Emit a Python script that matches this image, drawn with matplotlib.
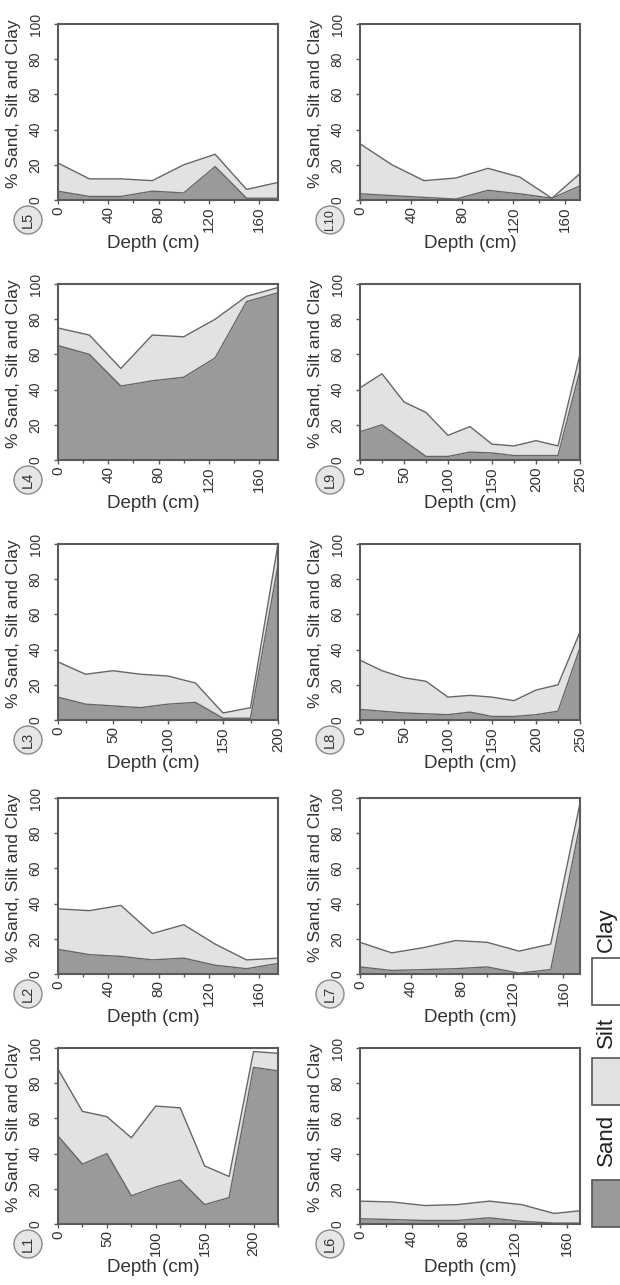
import matplotlib
matplotlib.use("Agg")
import matplotlib.pyplot as plt
from matplotlib.patches import Ellipse, Rectangle
from matplotlib.ticker import MultipleLocator

plt.rcParams['font.family'] = ['Liberation Sans', 'DejaVu Sans']

SAND_COLOR = '#9a9a9a'
SILT_COLOR = '#e2e2e2'
EDGE_COLOR = '#666666'
SPINE_COLOR = '#5a5a5a'

# depth (cm), % sand and % silt for every profile; clay is the remainder up to 100
depth_L1 = [0, 25, 50, 75, 100, 125, 150, 175, 200, 225]
sand_L1 = [50, 34, 40, 16, 21, 25, 11, 15, 89, 87]
silt_L1 = [38, 30, 21, 33, 46, 41, 22, 12, 9, 10]

depth_L2 = [0, 25, 50, 75, 100, 125, 150, 175]
sand_L2 = [14, 11, 10, 8, 9, 5, 3, 6]
silt_L2 = [23, 25, 29, 15, 19, 12, 5, 3]

depth_L3 = [0, 25, 50, 75, 100, 125, 150, 175, 200]
sand_L3 = [13, 9, 8, 7, 9, 10, 1, 1, 88]
silt_L3 = [20, 17, 20, 19, 16, 11, 3, 6, 12]

depth_L4 = [0, 25, 50, 75, 100, 125, 150, 175]
sand_L4 = [65, 60, 42, 45, 47, 58, 90, 95]
silt_L4 = [10, 11, 10, 26, 23, 22, 3, 3]

depth_L5 = [0, 25, 50, 75, 100, 125, 150, 175]
sand_L5 = [5, 2, 2, 5, 4, 19, 1, 1]
silt_L5 = [16, 10, 10, 6, 16, 7, 5, 9]

depth_L6 = [0, 25, 50, 75, 100, 125, 150, 170]
sand_L6 = [3, 2.5, 2, 2, 3.5, 1.5, 0.5, 0.5]
silt_L6 = [10, 10, 8.5, 9, 9.5, 9.5, 5.5, 7]

depth_L7 = [0, 25, 50, 75, 100, 125, 150, 173]
sand_L7 = [4, 2, 2.5, 3, 4, 0.5, 2.5, 85]
silt_L7 = [14, 10, 12.5, 16, 14, 12.5, 14.5, 12]

depth_L8 = [0, 25, 50, 75, 100, 125, 150, 175, 200, 225, 250]
sand_L8 = [6, 5, 4, 3.5, 3, 4.5, 2, 2, 3, 5, 41]
silt_L8 = [28, 23, 20, 18.5, 10, 9.5, 11, 9, 14, 15, 9]

depth_L9 = [0, 25, 50, 75, 100, 125, 150, 175, 200, 225, 250]
sand_L9 = [16, 20, 11, 2, 2, 4.5, 4, 2.5, 2.5, 2.5, 51]
silt_L9 = [25, 29, 22, 25, 12, 14.5, 5, 5.5, 8.5, 5.5, 9]

depth_L10 = [0, 25, 50, 75, 100, 125, 150, 172]
sand_L10 = [3.5, 2.5, 1.5, 0.5, 5.5, 3.5, 1, 8]
silt_L10 = [28.5, 17.5, 9.5, 12, 12.5, 9.5, 0, 7]

profiles = [
    ("L1", depth_L1, sand_L1, silt_L1),
    ("L2", depth_L2, sand_L2, silt_L2),
    ("L3", depth_L3, sand_L3, silt_L3),
    ("L4", depth_L4, sand_L4, silt_L4),
    ("L5", depth_L5, sand_L5, silt_L5),
    ("L6", depth_L6, sand_L6, silt_L6),
    ("L7", depth_L7, sand_L7, silt_L7),
    ("L8", depth_L8, sand_L8, silt_L8),
    ("L9", depth_L9, sand_L9, silt_L9),
    ("L10", depth_L10, sand_L10, silt_L10),
]

W, H = 620, 1285
fig = plt.figure(figsize=(W / 100, H / 100), dpi=100)

# panel boxes in pixels (top of each row), L1-L5 left column bottom->top, L6-L10 right
row_tops = [1048, 798, 544, 284, 24]
col_lefts = [58, 360]
ax_w, ax_h = 220, 176


def px_box(left, top, w, h):
    return [left / W, 1 - (top + h) / H, w / W, h / H]


for i, (name, depth, sand, silt) in enumerate(profiles):
    col = i // 5
    row = i % 5
    left, top = col_lefts[col], row_tops[row]
    ax = fig.add_axes(px_box(left, top, ax_w, ax_h))

    total = [s + t for s, t in zip(sand, silt)]
    ax.fill_between(depth, 0, sand, color=SAND_COLOR, lw=0, zorder=1)
    ax.fill_between(depth, sand, total, color=SILT_COLOR, lw=0, zorder=1)
    ax.plot(depth, sand, color=EDGE_COLOR, lw=1.0, zorder=2)
    ax.plot(depth, total, color=EDGE_COLOR, lw=1.0, zorder=2)

    ax.set_xlim(0, depth[-1])
    ax.set_ylim(0, 100)
    step = 50 if depth[-1] >= 200 else 40
    ax.xaxis.set_major_locator(MultipleLocator(step))
    ax.xaxis.set_minor_locator(MultipleLocator(step / 2))
    ax.yaxis.set_major_locator(MultipleLocator(20))

    for sp in ax.spines.values():
        sp.set_color(SPINE_COLOR)
        sp.set_linewidth(1.5)
        sp.set_zorder(3)

    ax.tick_params(axis='x', which='major', length=3, width=1, color=SPINE_COLOR,
                   labelsize=11, labelrotation=90, pad=1.5, labelcolor='#333333')
    ax.tick_params(axis='x', which='minor', length=2, width=1, color=SPINE_COLOR)
    ax.tick_params(axis='y', which='major', length=3, width=1, color=SPINE_COLOR,
                   labelsize=10, labelrotation=90, pad=8, labelcolor='#333333')
    for lab in ax.get_yticklabels():
        lab.set_va('center')

    ax.set_xlabel("Depth (cm)", fontsize=13.5, color='#333333')
    ax.set_ylabel("% Sand, Silt and Clay", fontsize=12.5, color='#333333')
    ax.xaxis.set_label_coords(0.435 if col == 0 else 0.5, -0.2)
    ax.yaxis.set_label_coords(-0.17, 0.55)

    # circled profile name below the lower left corner
    cx, cy = left - 30, top + ax_h + 20
    fig.add_artist(Ellipse((cx / W, 1 - cy / H), 28 / W, 28 / H,
                           transform=fig.transFigure, facecolor='#e6e6e6',
                           edgecolor='#8a8a8a', lw=1.0))
    fig.text(cx / W, 1 - cy / H, name, rotation=90, ha='center', va='center',
             fontsize=10.5 if len(name) < 3 else 9, color='#333333')

# legend, drawn sideways down the right edge
legend_items = [("Sand", SAND_COLOR, 1180, 1140), ("Silt", SILT_COLOR, 1058, 1032),
                ("Clay", "white", 958, 930)]
for label, color, patch_top, text_y in legend_items:
    fig.add_artist(Rectangle((592 / W, 1 - (patch_top + 47) / H), 35 / W, 47 / H,
                             transform=fig.transFigure, facecolor=color,
                             edgecolor='#555555', lw=1.2))
    fig.text(606 / W, 1 - text_y / H, label, rotation=90, ha='center', va='center',
             fontsize=16, color='#222222')

fig.savefig("out.png", dpi=100)
